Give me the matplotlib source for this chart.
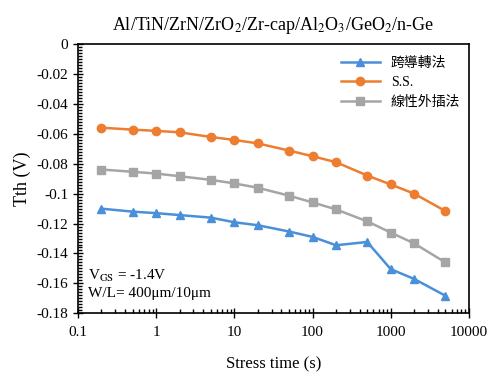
import numpy as np
import matplotlib.pyplot as plt
from matplotlib.ticker import LogLocator, MultipleLocator

# stress time (s)
stress_time = [0.2, 0.5, 1, 2, 5, 10, 20, 50, 100, 200, 500, 1000, 2000, 5000]

# Vth shift (V) per extraction method
vth_gm = [-0.110, -0.112, -0.113, -0.1143, -0.116, -0.1191, -0.1211, -0.1253,
          -0.1289, -0.1345, -0.1323, -0.1505, -0.1571, -0.1683]
vth_ss = [-0.0558, -0.0571, -0.0579, -0.0589, -0.0620, -0.0640, -0.0663, -0.0711,
          -0.0749, -0.0789, -0.0878, -0.0938, -0.1000, -0.1116]
vth_lin = [-0.0838, -0.0853, -0.0865, -0.0883, -0.0907, -0.0931, -0.0960, -0.1013,
           -0.1058, -0.1105, -0.1185, -0.1260, -0.1333, -0.1460]

labels = ['跨導轉法', 'S.S.', '線性外插法']
colors = ['#4a90d9', '#ed7d31', '#a5a5a5']
markers = ['^', 'o', 's']

plt.rcParams['font.family'] = ['Liberation Serif', 'Noto Sans CJK TC']
plt.rcParams['mathtext.fontset'] = 'stix'

fig = plt.figure(figsize=(4.9, 3.76), dpi=100)
ax = fig.add_axes([0.159, 0.167, 0.798, 0.715])

for y, c, m, lab in zip([vth_gm, vth_ss, vth_lin], colors, markers, labels):
    ax.plot(stress_time, y, color=c, marker=m, markersize=6, linewidth=1.8, label=lab)

ax.set_xscale('log')
ax.set_xlim(0.1, 10000)
ax.set_ylim(-0.18, 0)
ax.set_xticks([0.1, 1, 10, 100, 1000, 10000])
ax.set_xticklabels(['0.1', '1', '10', '100', '1000', '10000'])
ax.xaxis.set_minor_locator(LogLocator(base=10, subs=np.arange(2, 10)))
ax.set_yticks(np.arange(-0.18, 0.001, 0.02))
ax.set_yticklabels(['-0.18', '-0.16', '-0.14', '-0.12', '-0.1', '-0.08', '-0.06', '-0.04', '-0.02', '0'])
ax.yaxis.set_minor_locator(MultipleLocator(0.002))
ax.tick_params(which='major', direction='inout', length=7, width=1, labelsize=11)
ax.tick_params(axis='x', which='major', pad=6)
ax.tick_params(which='minor', direction='in', length=3, width=1)
for s in ax.spines.values():
    s.set_linewidth(1.2)

ax.set_xlabel('Stress time (s)', fontsize=12, labelpad=12)
ax.set_ylabel('Tth (V)', fontsize=13)
ax.set_title('Al/TiN/ZrN/ZrO$_2$/Zr-cap/Al$_2$O$_3$/GeO$_2$/n-Ge', fontsize=13, pad=10)

ax.text(0.025, 0.14, 'V$_{\\mathrm{GS}}$ = -1.4V', transform=ax.transAxes, fontsize=11, va='center')
ax.text(0.025, 0.074, 'W/L= 400μm/10μm', transform=ax.transAxes, fontsize=11, va='center')

leg = ax.legend(loc='upper right', frameon=False, fontsize=10, handlelength=2.8,
                bbox_to_anchor=(1.01, 1.0), labelspacing=0.45)

fig.savefig('out.png', dpi=100)
